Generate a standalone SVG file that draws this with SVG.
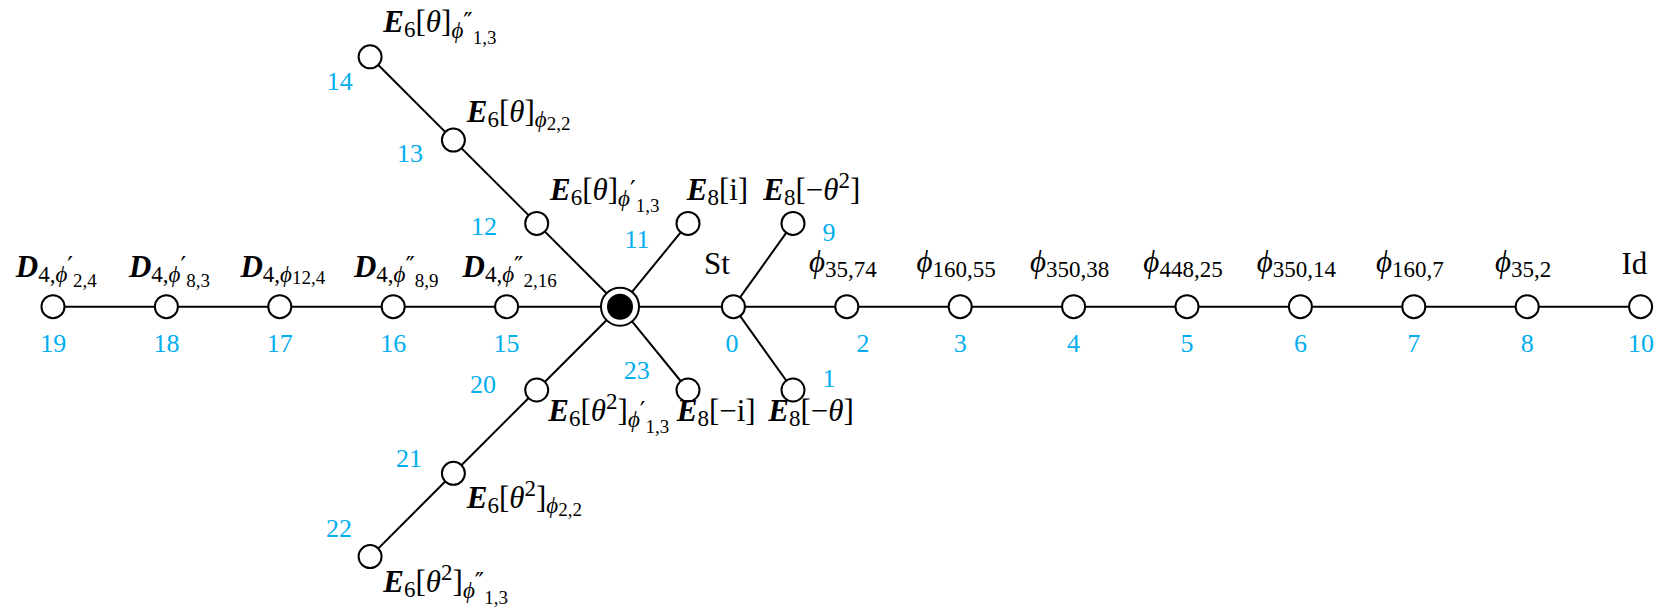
<svg xmlns="http://www.w3.org/2000/svg" width="1656" height="612" viewBox="0 0 1656 612">
<style>
.ln{stroke:#000;stroke-width:2;fill:none}
.nd{fill:#fff;stroke:#000;stroke-width:2}
.t{font-family:"Liberation Serif",serif;font-size:31px;fill:#000}
.bi{font-weight:bold;font-style:italic}
.it{font-style:italic}
.s{font-size:23px}
.ss{font-size:19px}
.p{font-family:"DejaVu Sans",sans-serif;font-size:25px}
.n{font-family:"Liberation Serif",serif;font-size:26px;fill:#00AEEF;text-anchor:middle}
.c{text-anchor:middle}
</style>
<rect width="1656" height="612" fill="#fff"/>
<g id="edges">
<line class="ln" x1="53" y1="306.7" x2="166.4" y2="306.7"/>
<line class="ln" x1="166.4" y1="306.7" x2="279.8" y2="306.7"/>
<line class="ln" x1="279.8" y1="306.7" x2="393.2" y2="306.7"/>
<line class="ln" x1="393.2" y1="306.7" x2="506.6" y2="306.7"/>
<line class="ln" x1="506.6" y1="306.7" x2="620" y2="306.7"/>
<line class="ln" x1="620" y1="306.7" x2="733.4" y2="306.7"/>
<line class="ln" x1="733.4" y1="306.7" x2="846.8" y2="306.7"/>
<line class="ln" x1="846.8" y1="306.7" x2="960.2" y2="306.7"/>
<line class="ln" x1="960.2" y1="306.7" x2="1073.6" y2="306.7"/>
<line class="ln" x1="1073.6" y1="306.7" x2="1187" y2="306.7"/>
<line class="ln" x1="1187" y1="306.7" x2="1300.4" y2="306.7"/>
<line class="ln" x1="1300.4" y1="306.7" x2="1413.8" y2="306.7"/>
<line class="ln" x1="1413.8" y1="306.7" x2="1527.2" y2="306.7"/>
<line class="ln" x1="1527.2" y1="306.7" x2="1640.6" y2="306.7"/>
<line class="ln" x1="620" y1="306.7" x2="536.7" y2="223.4"/>
<line class="ln" x1="536.7" y1="223.4" x2="453.4" y2="140.1"/>
<line class="ln" x1="453.4" y1="140.1" x2="370.1" y2="56.8"/>
<line class="ln" x1="620" y1="306.7" x2="536.7" y2="390"/>
<line class="ln" x1="536.7" y1="390" x2="453.4" y2="473.3"/>
<line class="ln" x1="453.4" y1="473.3" x2="370.1" y2="556.6"/>
<line class="ln" x1="620" y1="306.7" x2="688" y2="223.4"/>
<line class="ln" x1="620" y1="306.7" x2="688" y2="390"/>
<line class="ln" x1="733.4" y1="306.7" x2="793" y2="223.4"/>
<line class="ln" x1="733.4" y1="306.7" x2="793" y2="390"/>
</g>
<g id="nC"><circle class="nd" cx="620" cy="306.7" r="19"/><circle cx="620" cy="306.7" r="13" fill="#000"/></g>
<g id="n0"><circle class="nd" cx="733.4" cy="306.7" r="11.5"/><text class="t" x="704" y="274">St</text><text class="n" x="732" y="351.5">0</text></g>
<g id="n1"><circle class="nd" cx="793" cy="390" r="11.5"/><text class="n" x="829" y="387">1</text><text class="t" x="768.3" y="421"><tspan class="bi">E</tspan><tspan class="s" dy="5">8</tspan><tspan dy="-5">[−</tspan><tspan class="it">θ</tspan><tspan>]</tspan></text></g>
<g id="n2"><circle class="nd" cx="846.8" cy="306.7" r="11.5"/><text class="n" x="863" y="351.5">2</text><text class="t c" x="842.8" y="272"><tspan class="it">ϕ</tspan><tspan class="s" dy="5">35,74</tspan></text></g>
<g id="n3"><circle class="nd" cx="960.2" cy="306.7" r="11.5"/><text class="n" x="960.2" y="351.5">3</text><text class="t c" x="956.2" y="272"><tspan class="it">ϕ</tspan><tspan class="s" dy="5">160,55</tspan></text></g>
<g id="n4"><circle class="nd" cx="1073.6" cy="306.7" r="11.5"/><text class="n" x="1073.6" y="351.5">4</text><text class="t c" x="1069.6" y="272"><tspan class="it">ϕ</tspan><tspan class="s" dy="5">350,38</tspan></text></g>
<g id="n5"><circle class="nd" cx="1187" cy="306.7" r="11.5"/><text class="n" x="1187" y="351.5">5</text><text class="t c" x="1183" y="272"><tspan class="it">ϕ</tspan><tspan class="s" dy="5">448,25</tspan></text></g>
<g id="n6"><circle class="nd" cx="1300.4" cy="306.7" r="11.5"/><text class="n" x="1300.4" y="351.5">6</text><text class="t c" x="1296.4" y="272"><tspan class="it">ϕ</tspan><tspan class="s" dy="5">350,14</tspan></text></g>
<g id="n7"><circle class="nd" cx="1413.8" cy="306.7" r="11.5"/><text class="n" x="1413.8" y="351.5">7</text><text class="t c" x="1409.8" y="272"><tspan class="it">ϕ</tspan><tspan class="s" dy="5">160,7</tspan></text></g>
<g id="n8"><circle class="nd" cx="1527.2" cy="306.7" r="11.5"/><text class="n" x="1527.2" y="351.5">8</text><text class="t c" x="1523.2" y="272"><tspan class="it">ϕ</tspan><tspan class="s" dy="5">35,2</tspan></text></g>
<g id="n9"><circle class="nd" cx="793" cy="223.4" r="11.5"/><text class="n" x="829" y="241">9</text><text class="t" x="763.3" y="200"><tspan class="bi">E</tspan><tspan class="s" dy="5">8</tspan><tspan dy="-5">[−</tspan><tspan class="it">θ</tspan><tspan class="s" dy="-12">2</tspan><tspan dy="12">]</tspan></text></g>
<g id="n10"><circle class="nd" cx="1640.6" cy="306.7" r="11.5"/><text class="n" x="1641" y="351.5">10</text><text class="t" x="1621.5" y="274">Id</text></g>
<g id="n11"><circle class="nd" cx="688" cy="223.4" r="11.5"/><text class="n" x="637" y="248">11</text><text class="t" x="686.7" y="200"><tspan class="bi">E</tspan><tspan class="s" dy="5">8</tspan><tspan dy="-5">[i]</tspan></text></g>
<g id="n12"><circle class="nd" cx="536.7" cy="223.4" r="11.5"/><text class="n" x="484" y="235">12</text><text class="t" x="550" y="200"><tspan class="bi">E</tspan><tspan class="s" dy="5">6</tspan><tspan dy="-5">[</tspan><tspan class="it">θ</tspan><tspan>]</tspan><tspan class="s it" dy="6">ϕ</tspan><tspan class="p" dy="-8">′</tspan><tspan class="ss" dy="14">1,3</tspan></text></g>
<g id="n13"><circle class="nd" cx="453.4" cy="140.1" r="11.5"/><text class="n" x="410" y="161.7">13</text><text class="t" x="466.7" y="121.7"><tspan class="bi">E</tspan><tspan class="s" dy="5">6</tspan><tspan dy="-5">[</tspan><tspan class="it">θ</tspan><tspan>]</tspan><tspan class="s it" dy="5">ϕ</tspan><tspan class="ss" dy="3">2,2</tspan></text></g>
<g id="n14"><circle class="nd" cx="370.1" cy="56.8" r="11.5"/><text class="n" x="339.7" y="90">14</text><text class="t" x="383.3" y="31.7"><tspan class="bi">E</tspan><tspan class="s" dy="5">6</tspan><tspan dy="-5">[</tspan><tspan class="it">θ</tspan><tspan>]</tspan><tspan class="s it" dy="6">ϕ</tspan><tspan class="p" dy="-8">″</tspan><tspan class="ss" dy="14">1,3</tspan></text></g>
<g id="n15"><circle class="nd" cx="506.6" cy="306.7" r="11.5"/><text class="n" x="506.6" y="351.5">15</text><text class="t c" x="509.6" y="277"><tspan class="bi">D</tspan><tspan class="s" dy="5">4,</tspan><tspan class="s it">ϕ</tspan><tspan class="p" dy="-8">″</tspan><tspan class="ss" dy="13">2,16</tspan></text></g>
<g id="n16"><circle class="nd" cx="393.2" cy="306.7" r="11.5"/><text class="n" x="393.2" y="351.5">16</text><text class="t c" x="396.2" y="277"><tspan class="bi">D</tspan><tspan class="s" dy="5">4,</tspan><tspan class="s it">ϕ</tspan><tspan class="p" dy="-8">″</tspan><tspan class="ss" dy="13">8,9</tspan></text></g>
<g id="n17"><circle class="nd" cx="279.8" cy="306.7" r="11.5"/><text class="n" x="279.8" y="351.5">17</text><text class="t c" x="282.8" y="277"><tspan class="bi">D</tspan><tspan class="s" dy="5">4,</tspan><tspan class="s it">ϕ</tspan><tspan class="ss" dy="2">12,4</tspan></text></g>
<g id="n18"><circle class="nd" cx="166.4" cy="306.7" r="11.5"/><text class="n" x="166.4" y="351.5">18</text><text class="t c" x="169.4" y="277"><tspan class="bi">D</tspan><tspan class="s" dy="5">4,</tspan><tspan class="s it">ϕ</tspan><tspan class="p" dy="-8">′</tspan><tspan class="ss" dy="13">8,3</tspan></text></g>
<g id="n19"><circle class="nd" cx="53" cy="306.7" r="11.5"/><text class="n" x="53.3" y="351.5">19</text><text class="t c" x="56.3" y="277"><tspan class="bi">D</tspan><tspan class="s" dy="5">4,</tspan><tspan class="s it">ϕ</tspan><tspan class="p" dy="-8">′</tspan><tspan class="ss" dy="13">2,4</tspan></text></g>
<g id="n20"><circle class="nd" cx="536.7" cy="390" r="11.5"/><text class="n" x="483" y="393">20</text><text class="t" x="548.3" y="421"><tspan class="bi">E</tspan><tspan class="s" dy="5">6</tspan><tspan dy="-5">[</tspan><tspan class="it">θ</tspan><tspan class="s" dy="-12">2</tspan><tspan dy="12">]</tspan><tspan class="s it" dy="6">ϕ</tspan><tspan class="p" dy="-8">′</tspan><tspan class="ss" dy="14">1,3</tspan></text></g>
<g id="n21"><circle class="nd" cx="453.4" cy="473.3" r="11.5"/><text class="n" x="409" y="467">21</text><text class="t" x="466.7" y="508.3"><tspan class="bi">E</tspan><tspan class="s" dy="5">6</tspan><tspan dy="-5">[</tspan><tspan class="it">θ</tspan><tspan class="s" dy="-12">2</tspan><tspan dy="12">]</tspan><tspan class="s it" dy="5">ϕ</tspan><tspan class="ss" dy="3">2,2</tspan></text></g>
<g id="n22"><circle class="nd" cx="370.1" cy="556.6" r="11.5"/><text class="n" x="339" y="537">22</text><text class="t" x="383.3" y="591.7"><tspan class="bi">E</tspan><tspan class="s" dy="5">6</tspan><tspan dy="-5">[</tspan><tspan class="it">θ</tspan><tspan class="s" dy="-12">2</tspan><tspan dy="12">]</tspan><tspan class="s it" dy="6">ϕ</tspan><tspan class="p" dy="-8">″</tspan><tspan class="ss" dy="14">1,3</tspan></text></g>
<g id="n23"><circle class="nd" cx="688" cy="390" r="11.5"/><text class="n" x="636.7" y="379">23</text><text class="t" x="676.7" y="421"><tspan class="bi">E</tspan><tspan class="s" dy="5">8</tspan><tspan dy="-5">[−i]</tspan></text></g>
</svg>
